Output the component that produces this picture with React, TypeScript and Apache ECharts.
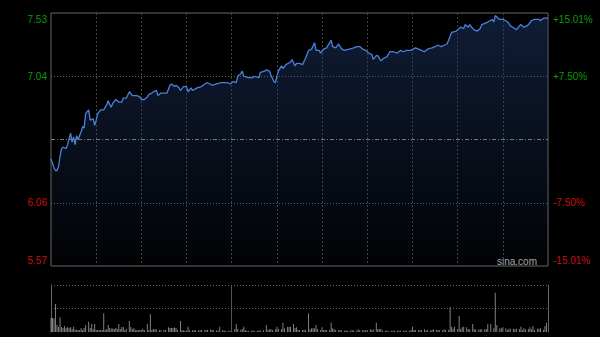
import React, { useEffect, useRef } from 'react';
import * as echarts from 'echarts';

// ---- axis / tick data ----
const leftTickLabels = ['5.57', '6.06', '', '7.04', '7.53'];
const rightTickLabels = ['-15.01%', '-7.50%', '', '+7.50%', '+15.01%'];
const priceMin = 5.57;
const priceMax = 7.53;
const priceStep = 0.49;
const prevClose = 6.55;
const sessionMinutes = 330;
const gridMinutes = 30;
const lunchMinute = 120;
const volumeMax = 470;
const watermark = 'sina.com';

// ---- intraday price: [minute, price] ----
const pricePoints: [number, number][] = [
  [0, 6.40], [2, 6.33], [3, 6.31], [4, 6.31], [5, 6.34], [6, 6.42], [7, 6.48], [8, 6.49], [10, 6.48], [11, 6.51],
  [13, 6.60], [14, 6.53], [15, 6.57], [16, 6.51], [17, 6.58], [18, 6.55], [20, 6.61], [21, 6.65], [22, 6.64], [23, 6.75],
  [25, 6.78], [26, 6.70], [28, 6.71], [29, 6.66], [30, 6.70], [31, 6.75], [33, 6.78], [35, 6.78], [37, 6.82], [38, 6.85],
  [39, 6.82], [40, 6.80], [41, 6.83], [43, 6.86], [45, 6.84], [47, 6.84], [48, 6.87], [50, 6.87], [52, 6.92], [54, 6.89],
  [55, 6.89], [57, 6.89], [59, 6.88], [60, 6.86], [62, 6.86], [64, 6.88], [65, 6.90], [67, 6.91], [68, 6.92], [70, 6.93],
  [71, 6.89], [73, 6.91], [75, 6.91], [77, 6.91], [79, 6.97], [80, 6.98], [82, 6.96], [83, 6.97], [85, 6.95], [86, 6.93],
  [88, 6.96], [90, 6.96], [91, 6.92], [93, 6.95], [94, 6.93], [97, 6.95], [100, 6.96], [102, 6.98], [104, 6.99], [107, 6.97],
  [110, 6.98], [113, 6.99], [117, 6.99], [119, 6.98], [121, 7.00], [123, 6.99], [124, 7.04], [126, 7.06], [127, 7.08], [128, 7.04],
  [131, 7.03], [134, 7.03], [135, 7.04], [138, 7.03], [139, 7.07], [142, 7.08], [143, 7.09], [145, 7.08], [146, 7.05], [148, 7.00],
  [149, 6.99], [150, 7.04], [151, 7.08], [153, 7.12], [154, 7.10], [156, 7.13], [159, 7.15], [160, 7.17], [162, 7.12], [163, 7.14],
  [165, 7.14], [167, 7.13], [169, 7.18], [171, 7.24], [173, 7.25], [175, 7.30], [176, 7.24], [178, 7.24], [179, 7.22], [181, 7.25],
  [183, 7.26], [186, 7.32], [187, 7.27], [189, 7.26], [191, 7.29], [193, 7.25], [195, 7.24], [198, 7.25], [201, 7.26], [203, 7.27],
  [205, 7.27], [207, 7.25], [209, 7.24], [211, 7.22], [213, 7.21], [214, 7.17], [216, 7.20], [217, 7.20], [219, 7.16], [221, 7.18],
  [223, 7.19], [225, 7.23], [227, 7.23], [230, 7.22], [232, 7.24], [234, 7.23], [236, 7.24], [239, 7.24], [242, 7.26], [244, 7.25],
  [246, 7.24], [248, 7.23], [250, 7.25], [253, 7.26], [255, 7.27], [257, 7.28], [259, 7.27], [261, 7.28], [263, 7.29], [265, 7.35],
  [266, 7.38], [269, 7.39], [271, 7.41], [272, 7.42], [274, 7.41], [275, 7.44], [277, 7.42], [278, 7.44], [280, 7.41], [281, 7.40],
  [283, 7.39], [285, 7.41], [286, 7.44], [288, 7.45], [290, 7.46], [293, 7.48], [294, 7.46], [295, 7.51], [297, 7.49], [298, 7.48],
  [300, 7.48], [302, 7.47], [304, 7.45], [305, 7.43], [308, 7.41], [309, 7.40], [311, 7.43], [312, 7.44], [314, 7.42], [316, 7.43],
  [317, 7.44], [319, 7.47], [321, 7.48], [324, 7.48], [325, 7.47], [327, 7.49], [328, 7.49], [330, 7.49],
];

// ---- volume: [minute, volume] ----
const volumePoints: [number, number][] = [
  [0, 140], [1, 140], [2, 135], [3, 280], [4, 70], [5, 50], [6, 147], [7, 50], [8, 40], [9, 60],
  [10, 40], [11, 50], [12, 40], [13, 47], [14, 30], [15, 53], [16, 20], [17, 25], [18, 20], [19, 20],
  [20, 37], [21, 20], [22, 40], [23, 70], [25, 103], [26, 40], [27, 80], [28, 30], [29, 80], [30, 20],
  [31, 20], [32, 20], [33, 20], [34, 20], [35, 187], [36, 20], [37, 30], [38, 70], [39, 40], [40, 35],
  [41, 35], [42, 30], [43, 40], [44, 30], [45, 80], [46, 30], [47, 50], [48, 50], [49, 20], [50, 30],
  [52, 110], [53, 50], [54, 30], [55, 37], [56, 20], [57, 20], [58, 20], [59, 20], [60, 20], [61, 33],
  [62, 20], [64, 80], [65, 20], [66, 177], [67, 20], [68, 30], [69, 27], [70, 27], [72, 20], [73, 17],
  [75, 20], [76, 20], [78, 47], [79, 40], [80, 40], [81, 40], [82, 45], [83, 40], [84, 20], [86, 110],
  [87, 20], [88, 15], [89, 13], [90, 13], [91, 53], [92, 17], [94, 17], [95, 17], [96, 17], [98, 17],
  [99, 17], [100, 20], [102, 17], [103, 20], [104, 23], [106, 27], [107, 20], [108, 17], [110, 17], [111, 13],
  [112, 53], [114, 20], [115, 13], [116, 13], [118, 13], [119, 10], [120, 10], [122, 30], [123, 80], [124, 30],
  [126, 23], [127, 30], [128, 53], [129, 20], [130, 13], [131, 13], [133, 13], [134, 13], [135, 13], [137, 13],
  [138, 15], [139, 15], [141, 20], [143, 70], [144, 20], [145, 27], [146, 27], [147, 20], [149, 27], [150, 53],
  [151, 30], [153, 30], [154, 93], [155, 37], [157, 50], [158, 50], [159, 53], [161, 80], [162, 40], [163, 47],
  [164, 20], [165, 20], [167, 20], [168, 23], [169, 20], [171, 187], [172, 25], [173, 37], [174, 37], [175, 37],
  [176, 70], [177, 30], [179, 20], [180, 47], [181, 20], [182, 20], [183, 20], [185, 20], [186, 93], [187, 37],
  [188, 27], [189, 20], [191, 20], [192, 20], [193, 15], [195, 15], [196, 13], [197, 13], [199, 15], [200, 20],
  [201, 15], [203, 15], [204, 27], [205, 17], [207, 20], [208, 17], [209, 17], [210, 20], [212, 27], [213, 20],
  [214, 27], [216, 93], [217, 30], [218, 30], [219, 30], [220, 15], [222, 13], [223, 13], [224, 10], [226, 13],
  [227, 13], [228, 13], [230, 13], [231, 13], [232, 13], [234, 13], [235, 13], [236, 13], [238, 13], [239, 20],
  [240, 53], [241, 20], [242, 20], [244, 17], [245, 20], [246, 17], [248, 27], [249, 15], [250, 20], [252, 15],
  [253, 20], [254, 27], [256, 20], [257, 20], [258, 17], [260, 17], [261, 27], [262, 20], [264, 20], [265, 253],
  [266, 53], [267, 33], [268, 53], [270, 30], [271, 160], [272, 30], [273, 47], [274, 53], [276, 47], [277, 27],
  [278, 27], [280, 80], [281, 27], [282, 27], [284, 23], [285, 27], [286, 27], [288, 27], [289, 30], [290, 80],
  [292, 80], [294, 37], [295, 393], [296, 70], [298, 37], [299, 37], [300, 47], [302, 37], [303, 20], [304, 33],
  [305, 33], [307, 33], [308, 27], [309, 33], [311, 30], [312, 53], [313, 20], [314, 37], [315, 27], [317, 30],
  [318, 47], [319, 27], [320, 60], [321, 20], [323, 33], [324, 33], [325, 37], [327, 20], [328, 60], [329, 93],
];

const FONT = '"Liberation Sans", Arial, sans-serif';
const GREEN = '#0b9a0b';
const RED = '#c81010';

function tickIndex(v: number) {
  return Math.round((v - priceMin) / priceStep);
}

function richFor(color: string) {
  return {
    t: { color, fontSize: 10, fontFamily: FONT, padding: [12, 0, 0, 0] },
    m: { color, fontSize: 10, fontFamily: FONT },
    b: { color, fontSize: 10, fontFamily: FONT, padding: [0, 0, 12, 0] },
  };
}

function labelFormatter(labels: string[]) {
  return (v: number) => {
    const i = tickIndex(v);
    const txt = labels[i] ?? '';
    if (!txt) return '';
    const last = labels.length - 1;
    const up = i > (last / 2);
    const key = i === last ? 't' : i === 0 ? 'b' : 'm';
    return `{${key}${up ? 'g' : 'r'}|${txt}}`;
  };
}

function richAll() {
  const g = richFor(GREEN);
  const r = richFor(RED);
  return { tg: g.t, mg: g.m, bg: g.b, tr: r.t, mr: r.m, br: r.b };
}

export default function App() {
  const ref = useRef<HTMLDivElement>(null);

  useEffect(() => {
    document.body.style.margin = '0';
    document.body.style.background = '#000';
    if (!ref.current) return;
    const chart = echarts.init(ref.current, undefined, { renderer: 'svg' });

    const option: any = {
      animation: false,
      backgroundColor: '#000',
      textStyle: { fontFamily: FONT },
      grid: [
        { left: 51, right: 52, top: 13, height: 253, show: true, borderColor: '#666', borderWidth: 1, backgroundColor: 'transparent' },
        { left: 51, right: 52, top: 285, height: 47, show: false },
      ],
      xAxis: [
        {
          type: 'value', gridIndex: 0, min: 0, max: sessionMinutes, interval: gridMinutes,
          axisLine: { show: false }, axisTick: { show: false }, axisLabel: { show: false },
          splitLine: { show: true, showMinLine: false, showMaxLine: false, lineStyle: { color: '#444', type: [2, 2], width: 1 } },
        },
        {
          type: 'value', gridIndex: 1, min: 0, max: sessionMinutes, interval: gridMinutes,
          axisLine: { show: false }, axisTick: { show: false }, axisLabel: { show: false },
          splitLine: { show: false },
        },
      ],
      yAxis: [
        {
          type: 'value', gridIndex: 0, position: 'left', min: priceMin, max: priceMax, interval: priceStep,
          axisLine: { show: false }, axisTick: { show: false },
          axisLabel: { show: true, margin: 4, formatter: labelFormatter(leftTickLabels), rich: richAll() },
          splitLine: { show: true, showMinLine: false, showMaxLine: false, lineStyle: { color: '#666', type: [1, 2], width: 1 } },
        },
        {
          type: 'value', gridIndex: 0, position: 'right', min: priceMin, max: priceMax, interval: priceStep,
          axisLine: { show: false }, axisTick: { show: false },
          axisLabel: { show: true, margin: 5, formatter: labelFormatter(rightTickLabels), rich: richAll() },
          splitLine: { show: false },
        },
        {
          type: 'value', gridIndex: 1, position: 'left', min: 0, max: volumeMax, interval: volumeMax / 2,
          axisLine: { show: true, lineStyle: { color: '#666', width: 1 } }, axisTick: { show: false }, axisLabel: { show: false },
          splitLine: { show: true, showMinLine: false, showMaxLine: true, lineStyle: { color: '#666', type: [1, 2], width: 1 } },
        },
        {
          type: 'value', gridIndex: 1, position: 'right', min: 0, max: volumeMax, interval: volumeMax / 2,
          axisLine: { show: true, lineStyle: { color: '#666', width: 1 } }, axisTick: { show: false }, axisLabel: { show: false },
          splitLine: { show: false },
        },
      ],
      series: [
        {
          type: 'line', xAxisIndex: 0, yAxisIndex: 0, data: pricePoints, showSymbol: false, symbol: 'none',
          lineStyle: { color: '#4a80d8', width: 1.3 },
          areaStyle: {
            origin: 'start',
            color: new echarts.graphic.LinearGradient(0, 0, 0, 1, [
              { offset: 0, color: 'rgba(32,56,106,0.72)' },
              { offset: 1, color: 'rgba(32,56,106,0.06)' },
            ]),
          },
          markLine: {
            silent: true, symbol: ['none', 'none'], label: { show: false },
            lineStyle: { color: '#7a7a7a', type: [4, 2, 1, 2], width: 1 },
            data: [{ yAxis: prevClose }],
          },
        },
        {
          type: 'bar', xAxisIndex: 1, yAxisIndex: 2, data: volumePoints, barWidth: 1,
          itemStyle: { color: '#808080' },
          markLine: {
            silent: true, symbol: ['none', 'none'], label: { show: false },
            lineStyle: { color: '#555', type: 'solid', width: 1 },
            data: [{ xAxis: lunchMinute }],
          },
        },
      ],
      graphic: [
        {
          type: 'text', right: 63, top: 256,
          style: { text: watermark, fill: '#aaa', fontSize: 10, fontFamily: FONT },
        },
      ],
    };

    chart.setOption(option);
    return () => chart.dispose();
  }, []);

  return <div ref={ref} style={{ width: 600, height: 337, background: '#000' }} />;
}
